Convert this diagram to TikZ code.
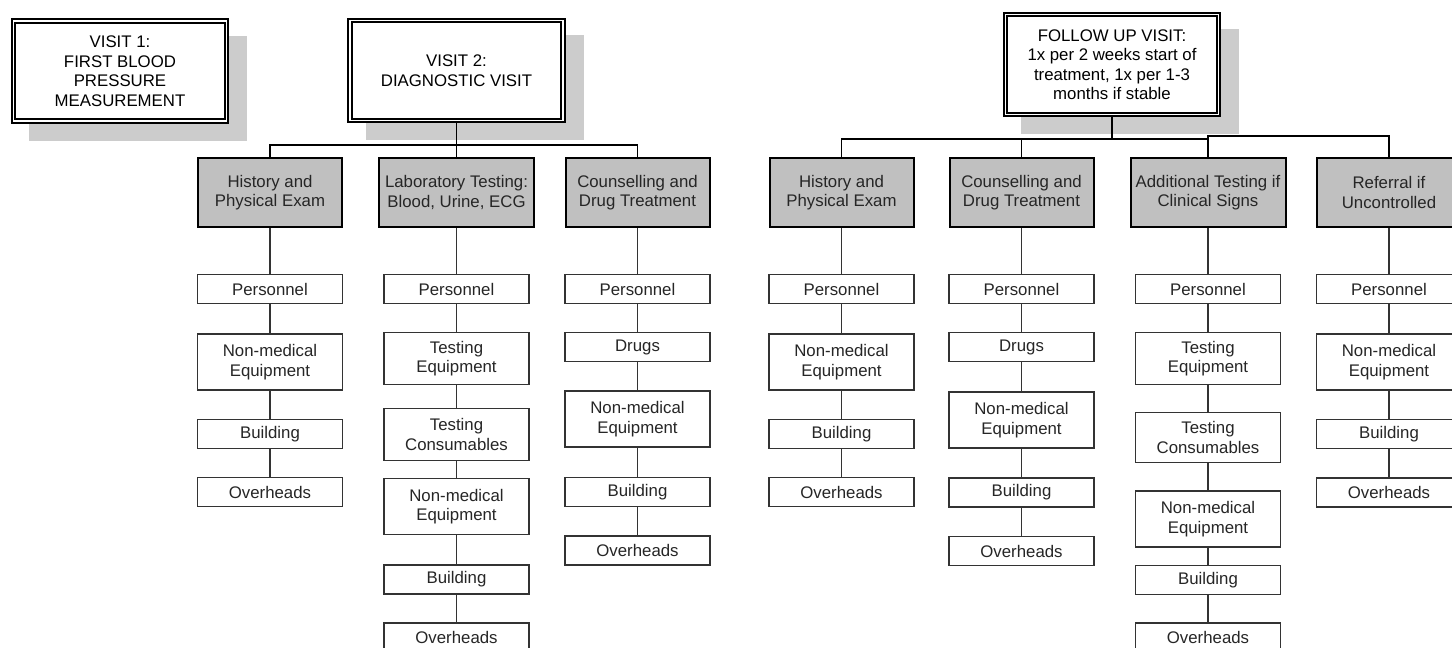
\documentclass[tikz,border=0pt]{standalone}
\usepackage{fontspec}
\setmainfont{Liberation Sans}
\usetikzlibrary{shadows}
\definecolor{boxgray}{HTML}{C0C0C0}
\definecolor{shadowgray}{HTML}{CCCCCC}
\definecolor{edgegray}{HTML}{333333}
\tikzset{
    visitbox/.style = {draw, double = white, line width = 1.8pt, double distance = 1.6pt,
        fill = white, minimum width = 213pt, minimum height = 100pt, inner sep = 0pt,
        general shadow = {fill = shadowgray, draw = shadowgray, line width = 5pt,
            shadow xshift = 18pt, shadow yshift = -17pt}},
    taskbox/.style = {draw, line width = 2pt, fill = boxgray, minimum width = 144pt,
        minimum height = 69pt, inner sep = 0pt},
    widetask/.style = {taskbox, minimum width = 155pt},
    itembox/.style = {draw = edgegray, line width = 1.3pt, fill = white, minimum width = 145pt,
        minimum height = 29pt, inner sep = 0pt},
    tallbox/.style = {itembox, minimum height = 56pt},
    trunk/.style = {line width = 1.6pt},
    link/.style = {draw = edgegray, line width = 1.3pt}
}
\begin{document}
\begin{tikzpicture}[x = 1pt, y = -1pt,
        every node/.append style = {align = center, font = \fontsize{16.8}{19.5}\selectfont}]
    \useasboundingbox (0,0) rectangle (1452,648);
    \node[visitbox] (v1) at (120,71) {VISIT 1:\\FIRST BLOOD\\PRESSURE\\MEASUREMENT};
    \node[visitbox] (v2) at (456.5,70.5) {VISIT 2:\\DIAGNOSTIC VISIT};
    \node[visitbox] (fu) at (1112,64.5) {FOLLOW UP VISIT:\\1x per 2 weeks start of\\treatment, 1x per 1-3\\months if stable};
    \begin{scope}[every node/.append style = {text = black!85}]
        \node[taskbox] (a0) at (270,192.5) {History and\\Physical Exam};
        \node[itembox] (a1) at (270,289) {Personnel};
        \node[tallbox] (a2) at (270,362) {Non-medical\\Equipment};
        \node[itembox] (a3) at (270,434) {Building};
        \node[itembox] (a4) at (270,492) {Overheads};
        \node[widetask] (b0) at (456.5,192.5) {Laboratory Testing:\\Blood, Urine, ECG};
        \node[itembox] (b1) at (456.5,289) {Personnel};
        \node[tallbox, minimum height = 52pt] (b2) at (456.5,358.5) {Testing\\Equipment};
        \node[tallbox, minimum height = 52pt] (b3) at (456.5,434.5) {Testing\\Consumables};
        \node[tallbox] (b4) at (456.5,506.5) {Non-medical\\Equipment};
        \node[itembox] (b5) at (456.5,579.5) {Building};
        \node[itembox] (b6) at (456.5,637.5) {Overheads};
        \node[taskbox] (c0) at (637.5,192.5) {Counselling and\\Drug Treatment};
        \node[itembox] (c1) at (637.5,289) {Personnel};
        \node[itembox] (c2) at (637.5,347) {Drugs};
        \node[tallbox] (c3) at (637.5,419) {Non-medical\\Equipment};
        \node[itembox] (c4) at (637.5,492) {Building};
        \node[itembox] (c5) at (637.5,550.5) {Overheads};
        \node[taskbox] (d0) at (841.5,192.5) {History and\\Physical Exam};
        \node[itembox] (d1) at (841.5,289) {Personnel};
        \node[tallbox] (d2) at (841.5,362) {Non-medical\\Equipment};
        \node[itembox] (d3) at (841.5,434) {Building};
        \node[itembox] (d4) at (841.5,492) {Overheads};
        \node[taskbox] (e0) at (1021.5,192.5) {Counselling and\\Drug Treatment};
        \node[itembox] (e1) at (1021.5,289) {Personnel};
        \node[itembox] (e2) at (1021.5,347) {Drugs};
        \node[tallbox] (e3) at (1021.5,420) {Non-medical\\Equipment};
        \node[itembox] (e4) at (1021.5,492.5) {Building};
        \node[itembox] (e5) at (1021.5,551) {Overheads};
        \node[widetask] (f0) at (1208,192.5) {Additional Testing if\\Clinical Signs};
        \node[itembox] (f1) at (1208,289) {Personnel};
        \node[tallbox, minimum height = 52pt] (f2) at (1208,358.5) {Testing\\Equipment};
        \node[tallbox, minimum height = 50pt] (f3) at (1208,437.5) {Testing\\Consumables};
        \node[tallbox] (f4) at (1208,519) {Non-medical\\Equipment};
        \node[itembox] (f5) at (1208,580) {Building};
        \node[itembox] (f6) at (1208,637.5) {Overheads};
        \node[taskbox] (g0) at (1389,192.5) {Referral if\\Uncontrolled};
        \node[itembox] (g1) at (1389,289) {Personnel};
        \node[tallbox] (g2) at (1389,362) {Non-medical\\Equipment};
        \node[itembox] (g3) at (1389,434) {Building};
        \node[itembox] (g4) at (1389,492.5) {Overheads};
    \end{scope}
    \coordinate (lbar) at (456.5,145);
    \coordinate (rbar) at (1112,139);
    \coordinate (rbar2) at (1208,136);
    \draw[trunk] (v2) -- (lbar);
    \draw[trunk] (a0) |- (lbar) -| (c0);
    \draw[trunk] (lbar) -- (b0);
    \draw[trunk] (fu) -- (rbar);
    \draw[trunk] (d0) |- (rbar) -| (f0);
    \draw[trunk] (e0) -- (e0 |- rbar);
    \draw[trunk] (f0) -- (rbar2) -| (g0);
    \foreach \u/\w in {a0/a1, a1/a2, a2/a3, a3/a4,
            b0/b1, b1/b2, b2/b3, b3/b4, b4/b5, b5/b6,
            c0/c1, c1/c2, c2/c3, c3/c4, c4/c5,
            d0/d1, d1/d2, d2/d3, d3/d4,
            e0/e1, e1/e2, e2/e3, e3/e4, e4/e5,
            f0/f1, f1/f2, f2/f3, f3/f4, f4/f5, f5/f6,
            g0/g1, g1/g2, g2/g3, g3/g4}
        \draw[link] (\u) -- (\w);
\end{tikzpicture}
\end{document}
